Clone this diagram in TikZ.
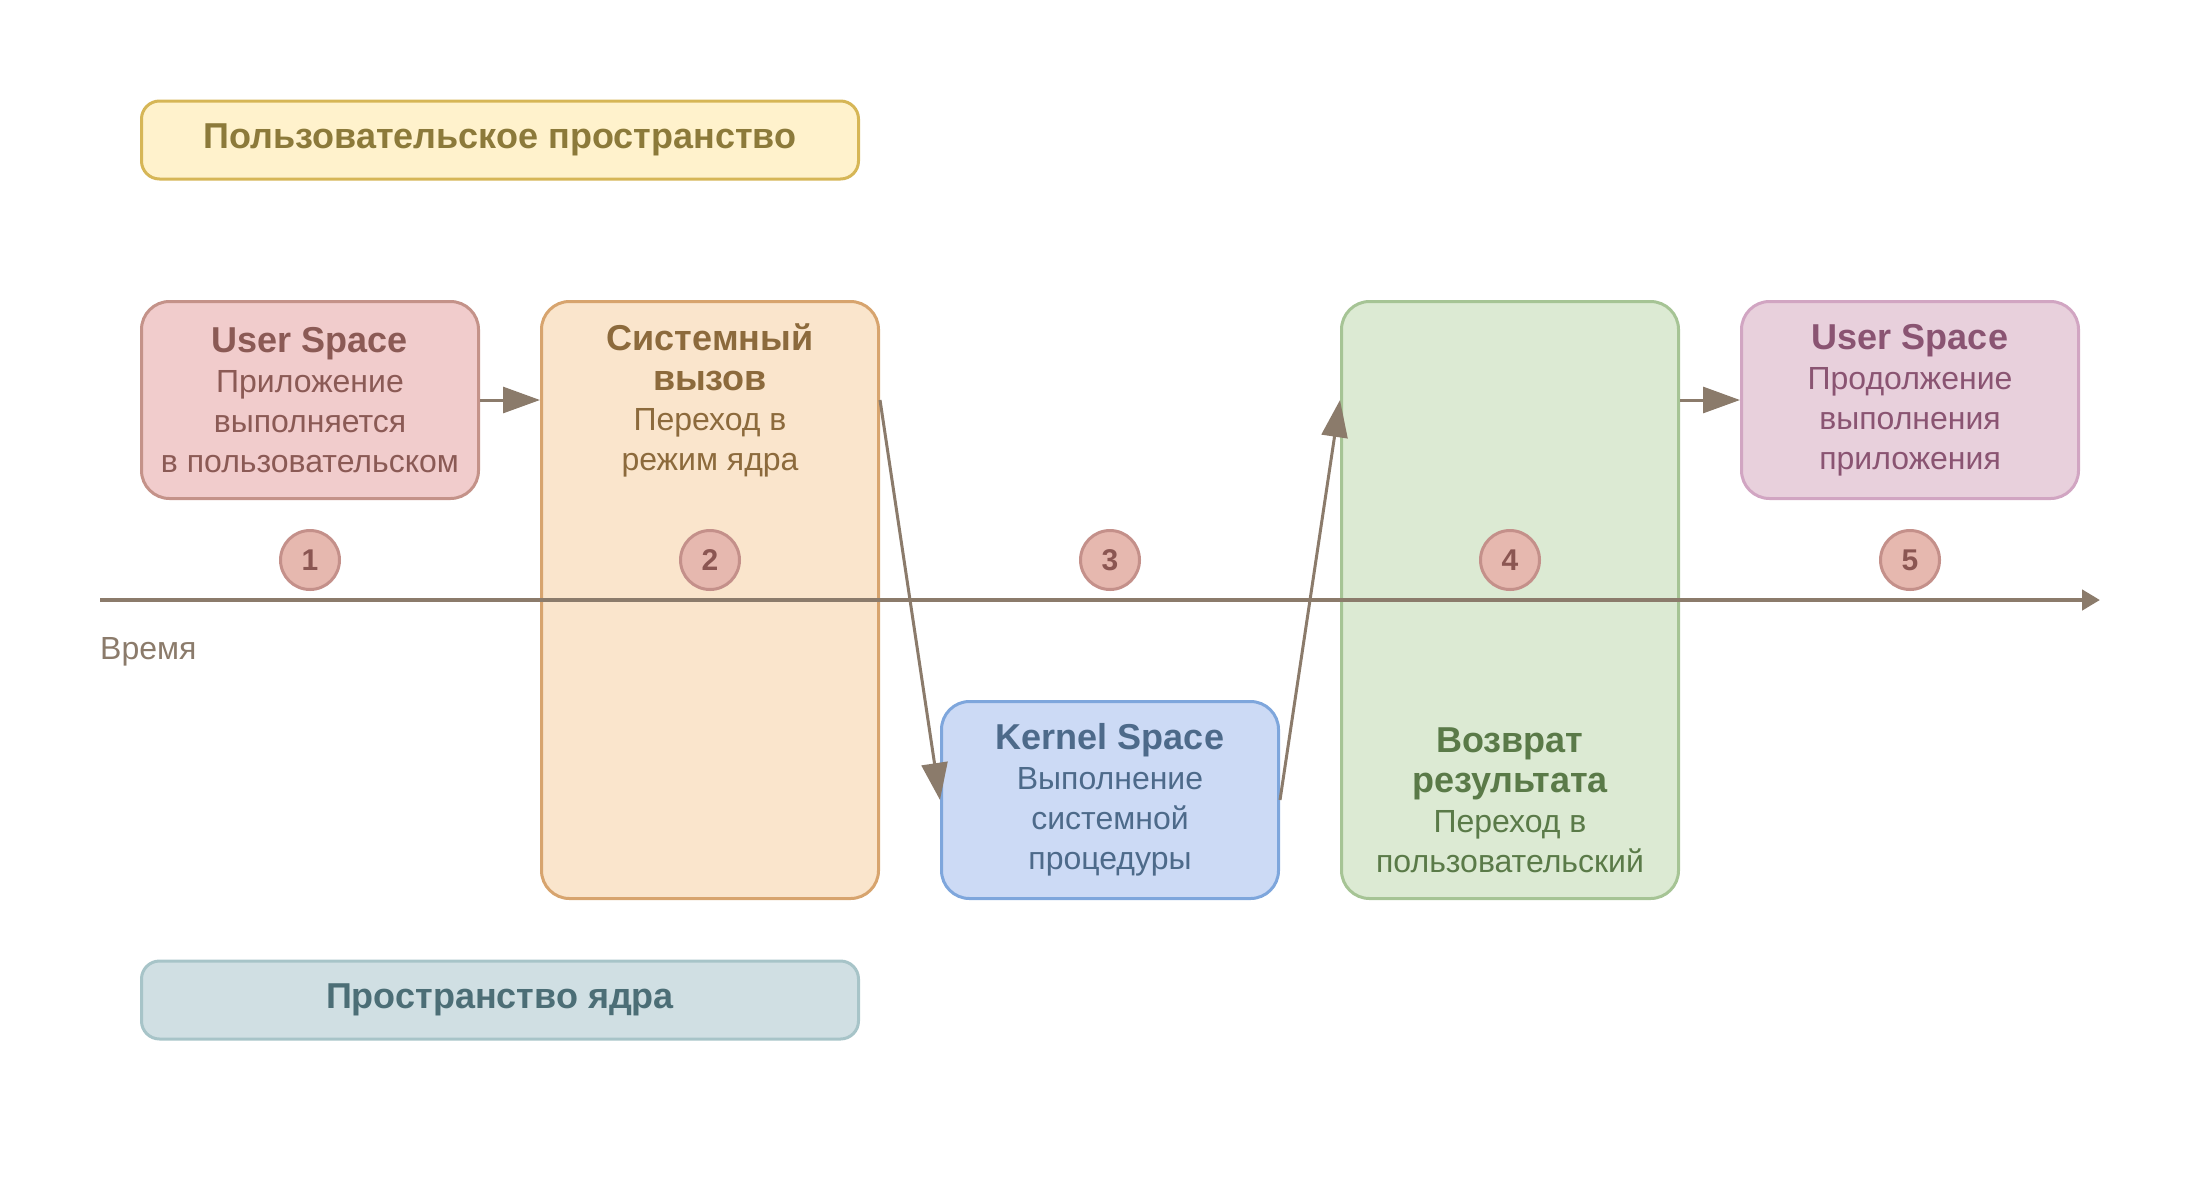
\documentclass[tikz,border=0pt]{standalone}
\usepackage{fontspec}
\setmainfont{Liberation Sans}
\usetikzlibrary{arrows.meta,positioning}
\definecolor{arrowc}{HTML}{8B7B6B}
\definecolor{yfill}{HTML}{FFF2CC}
\definecolor{yline}{HTML}{D6B656}
\definecolor{ytext}{HTML}{8C7A3A}
\definecolor{kfill}{HTML}{D0DFE3}
\definecolor{kline}{HTML}{A7C4C8}
\definecolor{ktext}{HTML}{4C6E76}
\definecolor{ufill}{HTML}{F1CCCC}
\definecolor{uline}{HTML}{C49289}
\definecolor{utext}{HTML}{8B5A55}
\definecolor{sfill}{HTML}{FAE5CC}
\definecolor{sline}{HTML}{D7A46E}
\definecolor{stext}{HTML}{8C6A3C}
\definecolor{bfill}{HTML}{CCDAF5}
\definecolor{bline}{HTML}{7EA6DC}
\definecolor{btext}{HTML}{4D6A8A}
\definecolor{gfill}{HTML}{DCEAD3}
\definecolor{gline}{HTML}{A6C495}
\definecolor{gtext}{HTML}{5A7A48}
\definecolor{pfill}{HTML}{E8D0DC}
\definecolor{pline}{HTML}{D1A5C2}
\definecolor{ptext}{HTML}{8A5472}
\definecolor{nfill}{HTML}{E6B8AF}
\definecolor{nline}{HTML}{C4908A}
\definecolor{ntext}{HTML}{8B5652}
\newcommand{\ttl}[1]{{\fontsize{36}{40}\selectfont\bfseries #1}}

\begin{document}
\begin{tikzpicture}[x=1pt,y=-1pt]
   \useasboundingbox (0,0) rectangle (2200,1200);
   \tikzset{
      box/.style  = {draw, line width=3pt, rounded corners=28pt, inner sep=0pt,
                     minimum width=337pt, minimum height=197pt},
      band/.style = {draw, line width=3pt, rounded corners=18pt, minimum width=717pt,
                     minimum height=78pt, font=\fontsize{36}{40}\selectfont\bfseries},
      txt/.style  = {align=center, inner sep=0pt, font=\fontsize{32}{40}\selectfont},
      num/.style  = {circle, draw=nline, fill=nfill, line width=3pt, minimum size=59pt,
                     inner sep=0pt, text=ntext, font=\fontsize{30}{30}\selectfont\bfseries},
      flow/.style = {draw=arrowc, line width=3pt, -{Triangle[length=37pt,width=26pt]}}
   }
   % headers
   \node[band, fill=yfill, draw=yline, text=ytext] (UH) at (500,140) {Пользовательское пространство};
   \node[band, fill=kfill, draw=kline, text=ktext] (KH) at (500,1000) {Пространство ядра};
   % boxes
   \node[box, fill=ufill, draw=uline] (U) at (310,400) {};
   \node[box, fill=sfill, draw=sline, minimum height=597pt] (S) at (710,600) {};
   \node[box, fill=bfill, draw=bline] (K) at (1110,800) {};
   \node[box, fill=gfill, draw=gline, minimum height=597pt] (R) at (1510,600) {};
   \node[box, fill=pfill, draw=pline] (C) at (1910,400) {};
   \node[txt, text=utext] (Ut) at (U) {\ttl{User Space}\\Приложение\\выполняется\\в пользовательском};
   \node[txt, text=stext] (St) at (S |- U) {\ttl{Системный}\\\ttl{вызов}\\Переход в\\режим ядра};
   \node[txt, text=btext] (Kt) at (K) {\ttl{Kernel Space}\\Выполнение\\системной\\процедуры};
   \node[txt, text=gtext] (Rt) at (R |- K) {\ttl{Возврат}\\\ttl{результата}\\Переход в\\пользовательский};
   \node[txt, text=ptext] (Ct) at (C) {\ttl{User Space}\\Продолжение\\выполнения\\приложения};
   % time axis
   \coordinate (T0) at (100,600);
   \coordinate (T1) at (2100,600);
   \draw[arrowc, line width=4.5pt, -{Triangle[length=18pt,width=20pt]}] (T0) -- (T1);
   \node[anchor=west, inner sep=0pt, text=arrowc, font=\fontsize{32}{32}\selectfont] (TL) at (100,652) {Время};
   \foreach \i/\x in {1/310, 2/710, 3/1110, 4/1510, 5/1910}
      \node[num] (n\i) at (\x,560) {\i};
   % flow
   \draw[flow] (U.east) -- (U.east -| S.west);
   \draw[flow] (U.east -| S.east) -- (K.west);
   \draw[flow] (K.east) -- (U.east -| R.west);
   \draw[flow] (U.east -| R.east) -- (C.west);
\end{tikzpicture}
\end{document}
